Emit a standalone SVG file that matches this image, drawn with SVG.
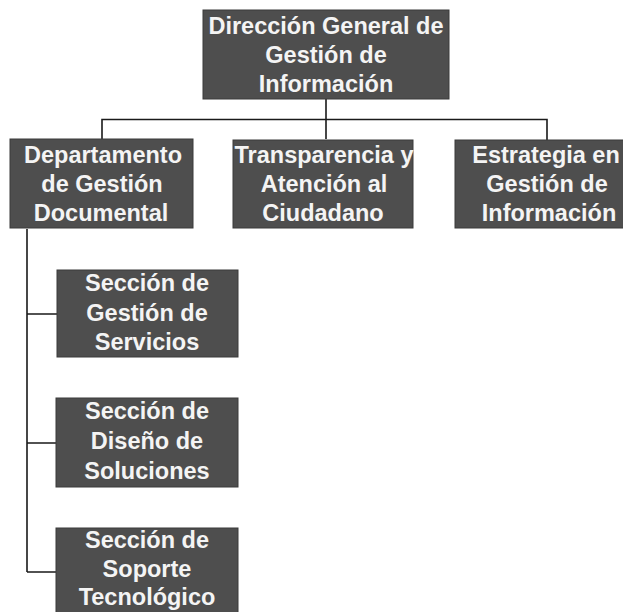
<svg xmlns="http://www.w3.org/2000/svg" width="623" height="612" viewBox="0 0 623 612">
<style>
.box{fill:#4e4e4e;stroke:#3a3a3a;stroke-width:1}
.t{font-family:"Liberation Sans",Arial,sans-serif;font-weight:bold;font-size:23.5px;fill:#f4f4f4;text-anchor:middle}
.c{fill:none;stroke:#1a1a1a;stroke-width:1.6}
</style>
<rect width="623" height="612" fill="#ffffff"/>
<g id="connectors">
<path class="c" d="M326,99 V139 M102,139 V119.5 H547 V140"/>
<path class="c" d="M27,229 V572 M27,314 H57 M27,443 H56 M27,572 H56"/>
</g>
<g id="n-direccion">
<rect class="box" x="203" y="10" width="246" height="89"/>
<text class="t" x="326" y="34">Dirección General de</text>
<text class="t" x="326" y="63">Gestión de</text>
<text class="t" x="326" y="92">Información</text>
</g>
<g id="n-departamento">
<rect class="box" x="10" y="139" width="183" height="89"/>
<text class="t" x="103" y="163">Departamento</text>
<text class="t" x="102" y="192">de Gestión</text>
<text class="t" x="101" y="221">Documental</text>
</g>
<g id="n-transparencia">
<rect class="box" x="233" y="140" width="180" height="88"/>
<text class="t" x="324" y="163">Transparencia y</text>
<text class="t" x="324" y="192">Atención al</text>
<text class="t" x="323" y="221">Ciudadano</text>
</g>
<g id="n-estrategia">
<rect class="box" x="455" y="140" width="182" height="88"/>
<text class="t" x="546" y="163">Estrategia en</text>
<text class="t" x="547" y="192">Gestión de</text>
<text class="t" x="549" y="221">Información</text>
</g>
<g id="n-servicios">
<rect class="box" x="57" y="270" width="181" height="87"/>
<text class="t" x="147" y="291">Sección de</text>
<text class="t" x="147" y="321">Gestión de</text>
<text class="t" x="147" y="350">Servicios</text>
</g>
<g id="n-soluciones">
<rect class="box" x="56" y="398" width="182" height="89"/>
<text class="t" x="147" y="419">Sección de</text>
<text class="t" x="147" y="449">Diseño de</text>
<text class="t" x="147" y="479">Soluciones</text>
</g>
<g id="n-soporte">
<rect class="box" x="56" y="528" width="182" height="90"/>
<text class="t" x="147" y="548">Sección de</text>
<text class="t" x="147" y="577">Soporte</text>
<text class="t" x="147" y="605">Tecnológico</text>
</g>
</svg>
